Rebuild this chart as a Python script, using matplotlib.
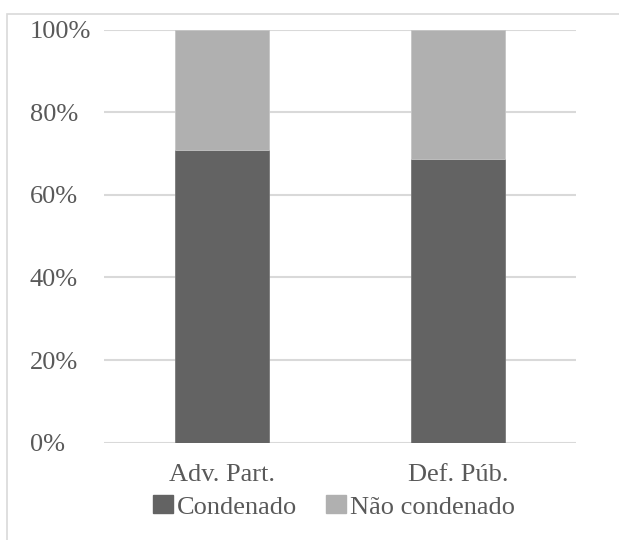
import matplotlib
matplotlib.use("Agg")
import matplotlib.pyplot as plt
from matplotlib.patches import Rectangle, Patch

categories = ["Adv. Part.", "Def. Púb."]
condenado = [70.9, 68.7]
nao_condenado = [100 - v for v in condenado]
yticks = [0, 20, 40, 60, 80, 100]
series_labels = ["Condenado", "Não condenado"]

dark = "#636363"
light = "#b0b0b0"
text_color = "#595959"
grid_color = "#d9d9d9"

plt.rcParams["font.family"] = ["Liberation Serif", "DejaVu Serif"]

W, H = 619, 540
fig = plt.figure(figsize=(W / 100, H / 100), dpi=100)

# outer chart frame (left and top edges visible)
fig.patches.append(Rectangle((7 / W, -0.1), 2, (H - 13.5) / H + 0.1,
                             transform=fig.transFigure, fill=False,
                             edgecolor=grid_color, linewidth=1.2))

ax = fig.add_axes([104 / W, 1 - 442.7 / H, (576 - 104) / W, (442.7 - 29.5) / H])
x = range(len(categories))
ax.bar(x, condenado, width=0.395, color=dark, edgecolor="#7a7a7a", linewidth=0.6, zorder=3)
ax.bar(x, nao_condenado, width=0.395, bottom=condenado, color=light,
       edgecolor="#c4c4c4", linewidth=0.6, zorder=3)

ax.set_xlim(-0.5, 1.5)
ax.set_ylim(0, 100)
ax.set_yticks(yticks)
ax.set_yticklabels([f"{v}%" for v in yticks], ha="left")
ax.set_xticks(list(x))
ax.set_xticklabels(categories)
ax.yaxis.grid(True, color=grid_color, linewidth=1.5, zorder=0)
ax.set_axisbelow(True)
for s in ax.spines.values():
    s.set_visible(False)
ax.tick_params(axis="both", length=0, labelsize=19, colors=text_color)
ax.tick_params(axis="y", pad=(104 - 30) * 72 / 100)
ax.tick_params(axis="x", pad=15.5)

handles = [Patch(facecolor=dark, edgecolor=dark), Patch(facecolor=light, edgecolor=light)]
leg = fig.legend(handles, series_labels, loc="center", bbox_to_anchor=(334 / W, 1 - 507 / H),
                 ncol=2, frameon=False, fontsize=19, handlelength=0.76, handleheight=0.68,
                 handletextpad=0.15, columnspacing=1.1, labelcolor=text_color,
                 borderpad=0, borderaxespad=0)

fig.savefig("out.png", dpi=100, facecolor="white")
